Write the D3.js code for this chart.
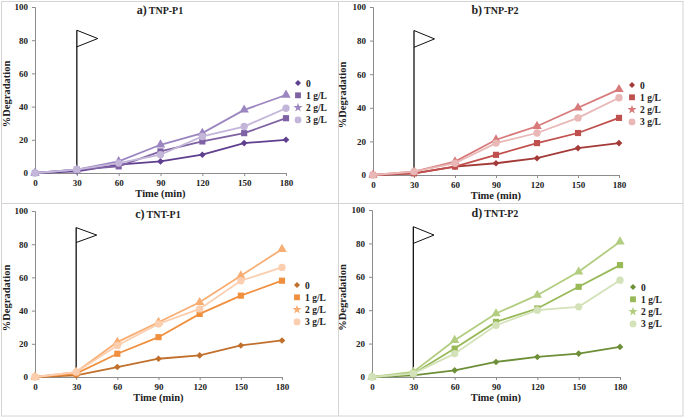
<!DOCTYPE html>
<html><head><meta charset="utf-8">
<script src="https://cdn.jsdelivr.net/npm/d3@7/dist/d3.min.js"></script>
<style>
body{margin:0;background:#fff;}
svg text{font-family:"Liberation Serif","DejaVu Serif",serif !important;font-weight:bold;fill:#222;}
</style></head>
<body><svg id="c" width="685" height="418"></svg>
<script>
const times = [0, 30, 60, 90, 120, 150, 180];
const seriesNames = ["0", "1 g/L", "2 g/L", "3 g/L"];
const yTicks = [0, 20, 40, 60, 80, 100];
const panelTitles = ["a) TNP-P1", "b) TNP-P2", "c) TNT-P1", "d) TNT-P2"];

// values per panel, per series (0, 1 g/L, 2 g/L, 3 g/L)
const tnpP1_0 = [0, 1, 5, 7, 11, 18, 20];
const tnpP1_1 = [0, 2, 4, 13, 19, 24, 33];
const tnpP1_2 = [0, 2, 7, 17, 24, 38, 47];
const tnpP1_3 = [0, 2, 6, 11, 22, 28, 39];

const tnpP2_0 = [0, 1, 5, 7, 10, 16, 19];
const tnpP2_1 = [0, 1, 5, 12, 19, 25, 34];
const tnpP2_2 = [0, 2, 8, 21, 29, 40, 51];
const tnpP2_3 = [0, 2, 7, 19, 25, 34, 46];

const tntP1_0 = [0, 1, 6, 11, 13, 19, 22];
const tntP1_1 = [0, 2, 14, 24, 38, 49, 58];
const tntP1_2 = [0, 3, 21, 33, 45, 61, 77];
const tntP1_3 = [0, 3, 19, 32, 41, 58, 66];

const tntP2_0 = [0, 1, 4, 9, 12, 14, 18];
const tntP2_1 = [0, 2, 17, 33, 41, 54, 67];
const tntP2_2 = [0, 3, 22, 38, 49, 63, 81];
const tntP2_3 = [0, 2, 14, 31, 40, 42, 58];

// flag marking 30 min: pole top, tip, bottom (time, %)
const flagA = [[30, 86], [45, 81], [30, 76]];
const flagB = [[30, 86], [45, 81], [30, 76]];
const flagC = [[30, 90], [45, 85.5], [30, 81]];
const flagD = [[30, 90], [45, 85], [30, 80]];

const panelData = [
  [tnpP1_0, tnpP1_1, tnpP1_2, tnpP1_3],
  [tnpP2_0, tnpP2_1, tnpP2_2, tnpP2_3],
  [tntP1_0, tntP1_1, tntP1_2, tntP1_3],
  [tntP2_0, tntP2_1, tntP2_2, tntP2_3]
];
const panelFlags = [flagA, flagB, flagC, flagD];
const panelColors = [
  ["#5f3f8f", "#7f62a3", "#9b86c1", "#c3b6d9"],
  ["#a33a38", "#c0504d", "#d8797a", "#e8b7b6"],
  ["#c0702c", "#f0903f", "#f8ad72", "#fbceaf"],
  ["#6d8f38", "#98b957", "#b2cd7f", "#d3e2b8"]
];
// layout
const layout = [
  {x0: 35, x1: 286, y0: 173, y1: 7, lx: 298, ly: 83, tx: 160, ty: 14, ylx: 10},
  {x0: 373, x1: 619, y0: 175, y1: 7, lx: 632, ly: 85, tx: 495, ty: 14, ylx: 346},
  {x0: 35, x1: 282, y0: 377, y1: 211, lx: 297, ly: 285, tx: 158, ty: 218, ylx: 10},
  {x0: 372, x1: 620, y0: 377, y1: 210, lx: 633, ly: 287, tx: 495, ty: 217, ylx: 346}
];
const FONT = '"Liberation Serif","DejaVu Serif",serif';

const svg = d3.select("#c");
// frames
const fr = svg.append("g").attr("stroke", "#d4d4d4").attr("fill", "none");
fr.append("rect").attr("x", 1.5).attr("y", 1.5).attr("width", 681.5).attr("height", 414.5);
fr.append("line").attr("x1", 338.5).attr("x2", 338.5).attr("y1", 1.5).attr("y2", 416);
fr.append("line").attr("x1", 1.5).attr("x2", 683).attr("y1", 203.5).attr("y2", 203.5);

const symbols = [d3.symbolSquare, d3.symbolSquare, d3.symbolTriangle, d3.symbolCircle];
const symSizes = [22, 38, 38, 42];
const legSizes = [18, 34, 26, 36];
const rot = [45, 0, 0, 0];

panelData.forEach((series, p) => {
  const L = layout[p];
  const x = d3.scaleLinear().domain([0, 180]).range([L.x0, L.x1]);
  const y = d3.scaleLinear().domain([0, 100]).range([L.y0, L.y1]);
  const g = svg.append("g").attr("font-family", FONT);

  const ya = g.append("g").attr("transform", `translate(${L.x0},0)`)
    .call(d3.axisLeft(y).tickValues(yTicks).tickSize(3).tickPadding(4));
  const xa = g.append("g").attr("transform", `translate(0,${L.y0})`)
    .call(d3.axisBottom(x).tickValues(times).tickSize(3).tickPadding(4));
  [ya, xa].forEach(a => {
    a.attr("font-family", FONT);
    a.selectAll("path,line").attr("stroke", "#8c8c8c");
    a.selectAll("text").style("font-size", "9px").attr("fill", "#222");
  });

  g.append("text").attr("x", (L.x0 + L.x1) / 2).attr("y", L.y0 + 24)
    .attr("text-anchor", "middle").style("font-size", "10.5px").text("Time (min)");
  g.append("text").attr("transform", `translate(${L.ylx},${(L.y0 + L.y1) / 2 + 4}) rotate(-90)`)
    .attr("text-anchor", "middle").style("font-size", "10.5px").text("%Degradation");
  const t = panelTitles[p];
  const tt = g.append("text").attr("x", L.tx).attr("y", L.ty).attr("text-anchor", "middle");
  tt.append("tspan").style("font-size", "12px").text(t.slice(0, 2));
  tt.append("tspan").style("font-size", "10px").attr("dx", 2).text(t.slice(2).trim());

  // flag
  const f = panelFlags[p];
  g.append("line").attr("x1", x(30)).attr("x2", x(30)).attr("y1", y(0)).attr("y2", y(f[0][1]))
    .attr("stroke", "#111").attr("stroke-width", 1.3);
  g.append("path").attr("d", d3.line().x(d => x(d[0])).y(d => y(d[1]))(f) )
    .attr("fill", "none").attr("stroke", "#111").attr("stroke-width", 1);

  const line = d3.line().x((d, i) => x(times[i])).y(d => y(d));
  series.forEach((vals, s) => {
    const col = panelColors[p][s];
    g.append("path").attr("d", line(vals)).attr("fill", "none")
      .attr("stroke", col).attr("stroke-width", 1.8);
    g.selectAll(null).data(vals).enter().append("path")
      .attr("transform", (d, i) => `translate(${x(times[i])},${y(d)}) rotate(${rot[s]})`)
      .attr("d", d3.symbol().type(symbols[s]).size(symSizes[s])).attr("fill", col);
    // legend
    const ly = L.ly + s * 12.3;
    g.append("path").attr("transform", `translate(${L.lx},${ly}) rotate(${rot[s]})`)
      .attr("d", d3.symbol().type(s === 2 ? d3.symbolStar : symbols[s]).size(legSizes[s])).attr("fill", col);
    g.append("text").attr("x", L.lx + 8).attr("y", ly + 3.5).style("font-size", "9.5px").text(seriesNames[s]);
  });
});
</script></body></html>
